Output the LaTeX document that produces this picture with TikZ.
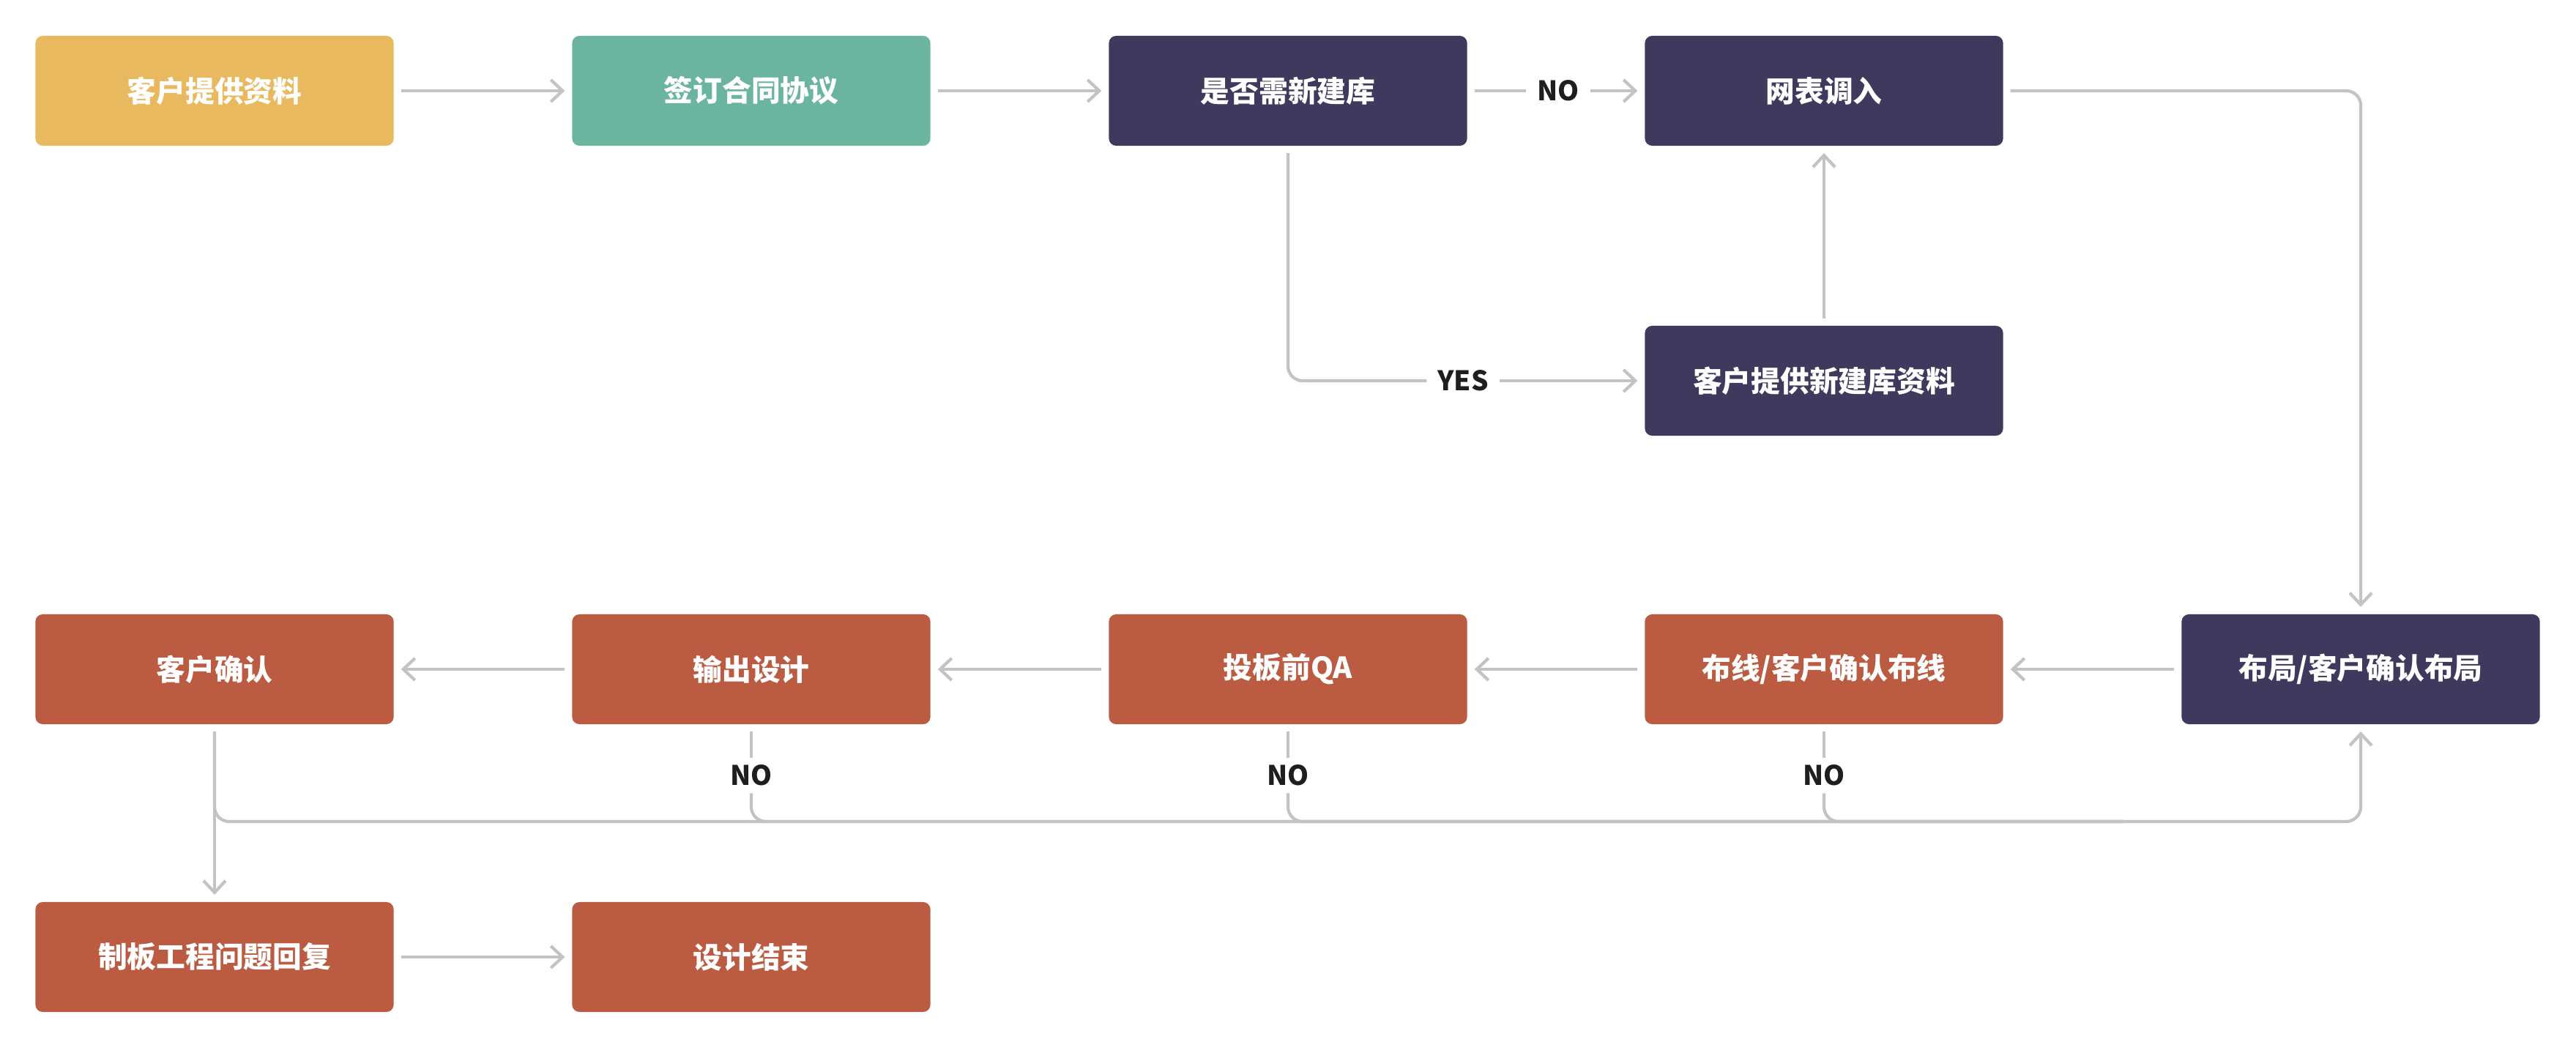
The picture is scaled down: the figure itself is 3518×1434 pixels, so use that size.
\documentclass[tikz,border=0pt]{standalone}
\usepackage{fontspec}
\setmainfont{Noto Sans CJK SC}
\usetikzlibrary{arrows.meta}
\definecolor{huang}{HTML}{E8B95E}
\definecolor{qing}{HTML}{6BB5A0}
\definecolor{zise}{HTML}{3F395D}
\definecolor{hong}{HTML}{BA5B42}
\definecolor{xian}{HTML}{C2C3C5}
\definecolor{zi}{HTML}{1E1E1E}
\tikzset{
  box/.style={rectangle, rounded corners=0.1cm, minimum width=4.89cm, minimum height=1.5cm, outer sep=0.1cm, text=white, font=\fontsize{11.3}{13}\selectfont\bfseries},
  tag/.style={inner xsep=0.15cm, inner ysep=0.1cm, outer sep=0pt, text=zi, font=\fontsize{10.5}{12}\selectfont\bfseries},
  conn/.style={draw=xian, line width=1.2pt, rounded corners=0.2cm},
  arr/.style={conn, -{Straight Barb[length=1.6mm, width=3mm]}}
}
\begin{document}
\begin{tikzpicture}[x=0.01cm, y=-0.01cm]
    \useasboundingbox (0, 0) rectangle (3518, 1434);
    \node[box, fill=huang] (KH) at (293, 124) {客户提供资料};
    \node[box, fill=qing] (QY) at (1026, 124) {签订合同协议};
    \node[box, fill=zise] (SF) at (1759, 124) {是否需新建库};
    \node[box, fill=zise] (WB) at (2491, 124) {网表调入};
    \node[box, fill=zise] (XJ) at (2491, 520) {客户提供新建库资料};
    \node[box, fill=zise] (BJ) at (3224, 914) {布局/客户确认布局};
    \node[box, fill=hong] (BX) at (2491, 914) {布线/客户确认布线};
    \node[box, fill=hong] (QA) at (1759, 914) {投板前QA};
    \node[box, fill=hong] (SC) at (1026, 914) {输出设计};
    \node[box, fill=hong] (QR) at (293, 914) {客户确认};
    \node[box, fill=hong] (ZB) at (293, 1307) {制板工程问题回复};
    \node[box, fill=hong] (JS) at (1026, 1307) {设计结束};
    \node[tag] (NO0) at (2128, 124) {NO};
    \node[tag] (YES) at (1998, 520) {YES};
    \node[tag] (NO1) at (1026, 1059) {NO};
    \node[tag] (NO2) at (1759, 1059) {NO};
    \node[tag] (NO3) at (2491, 1059) {NO};
    \coordinate (LP) at (3224, 1122);
    \coordinate (LQ) at (2900, 1122);
    \draw[arr] (KH) -- (QY);
    \draw[arr] (QY) -- (SF);
    \draw[conn] (SF) -- (NO0);
    \draw[arr] (NO0) -- (WB);
    \draw[conn] (SF.south) |- (YES.west);
    \draw[arr] (YES) -- (XJ);
    \draw[arr] (XJ) -- (WB);
    \draw[arr] (WB.east) -| (BJ.north);
    \draw[arr] (BJ) -- (BX);
    \draw[arr] (BX) -- (QA);
    \draw[arr] (QA) -- (SC);
    \draw[arr] (SC) -- (QR);
    \draw[arr] (QR) -- (ZB);
    \draw[arr] (ZB) -- (JS);
    \draw[arr] (QR.south) |- (LP) -- (BJ.south);
    \draw[conn] (SC) -- (NO1);
    \draw[conn] (NO1.south) |- (LQ);
    \draw[conn] (QA) -- (NO2);
    \draw[conn] (NO2.south) |- (LQ);
    \draw[conn] (BX) -- (NO3);
    \draw[conn] (NO3.south) |- (LQ);
\end{tikzpicture}
\end{document}
